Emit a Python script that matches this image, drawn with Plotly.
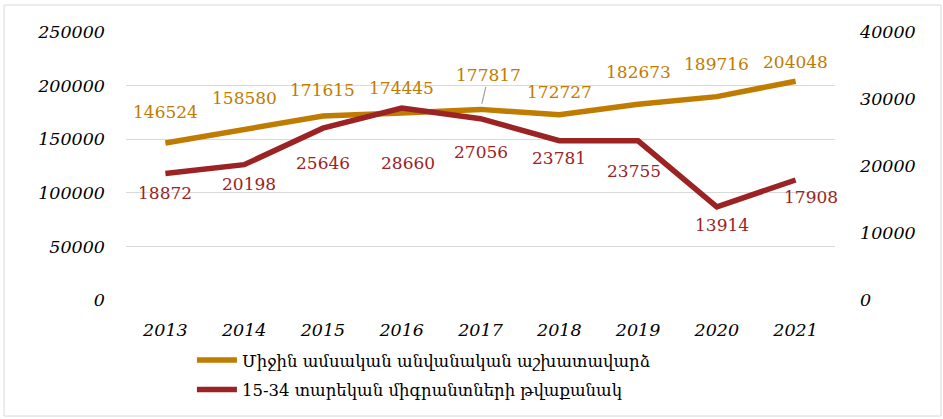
import plotly.graph_objects as go

years = ["2013", "2014", "2015", "2016", "2017", "2018", "2019", "2020", "2021"]
wage = [146524, 158580, 171615, 174445, 177817, 172727, 182673, 189716, 204048]
migrants = [18872, 20198, 25646, 28660, 27056, 23781, 23755, 13914, 17908]
wage_name = "Միջին ամսական անվանական աշխատավարձ"
migr_name = "15-34 տարեկան միգրանտների թվաքանակ"

GOLD = "#BF7C00"
RED = "#9C2323"
FONT = "DejaVu Serif"

# label offsets (pixels)
wage_shift = [(0, 31), (0, 32), (0, 26), (0, 25), None, (0, 23), (0, 32), (0, 33), (0, 19)]
migr_shift = [(0, -19), (5, -19), (0, -35), (6, -55), (0, -33), (0, -17), (-4, -30), (5, -18), (15, -17)]

fig = go.Figure()
fig.add_trace(go.Scatter(x=years, y=wage, name=wage_name, mode="lines", legendgroup="a",
                         line=dict(color=GOLD, width=5.5), yaxis="y"))
fig.add_trace(go.Scatter(x=years, y=migrants, name=migr_name, mode="lines", legendgroup="b",
                         line=dict(color=RED, width=5.5), yaxis="y2"))

for i, v in enumerate(wage):
    s = wage_shift[i]
    if s is None:
        fig.add_annotation(x=i, y=v, xref="x", yref="y", text=str(v), showarrow=True,
                           ax=8, ay=-34, arrowhead=0, arrowwidth=1.3, arrowcolor="#A6A6A6",
                           standoff=6, font=dict(family=FONT, size=17, color=GOLD))
    else:
        fig.add_annotation(x=i, y=v, xref="x", yref="y", text=str(v), showarrow=False,
                           xshift=s[0], yshift=s[1], font=dict(family=FONT, size=17, color=GOLD))
for i, v in enumerate(migrants):
    s = migr_shift[i]
    fig.add_annotation(x=i, y=v, xref="x", yref="y2", text=str(v), showarrow=False,
                       xshift=s[0], yshift=s[1], font=dict(family=FONT, size=17, color=RED))

fig.update_layout(
    width=943, height=419,
    margin=dict(l=126, r=108, t=32, b=119),
    paper_bgcolor="white", plot_bgcolor="white",
    font=dict(family=FONT, size=17),
    showlegend=True,
    legend=dict(x=0.093, y=-0.16, xanchor="left", yanchor="top", orientation="v",
                font=dict(family=FONT, size=16.5, color="#000000"), tracegroupgap=5,
                itemwidth=40, bgcolor="rgba(0,0,0,0)"),
    xaxis=dict(type="category", range=[-0.5, 8.5], showgrid=False, zeroline=False,
               showline=False, ticks="",
               tickfont=dict(family=FONT, size=17.5, color="#000000", style="italic"),
               ticklabelstandoff=17),
    yaxis=dict(range=[0, 250000], dtick=50000, tickformat="d", showgrid=True,
               gridcolor="#D9D9D9", gridwidth=1.3,
               zeroline=False, showline=False, ticks="",
               tickfont=dict(family=FONT, size=17.5, color="#000000", style="italic"),
               ticklabelstandoff=20),
    yaxis2=dict(range=[0, 40000], dtick=10000, tickformat="d", overlaying="y", side="right",
                showgrid=False, zeroline=False, showline=False, ticks="",
                tickfont=dict(family=FONT, size=17.5, color="#000000", style="italic"),
                ticklabelstandoff=24),
    shapes=[dict(type="rect", xref="paper", yref="paper",
                 x0=-0.172, x1=1.1495, y0=-0.433, y1=1.1007,
                 line=dict(color="#D9D9D9", width=1), fillcolor="rgba(0,0,0,0)", layer="below")],
)

fig.write_html("out.html", config={"displayModeBar": False},
               post_script="document.body.style.margin='0';")
